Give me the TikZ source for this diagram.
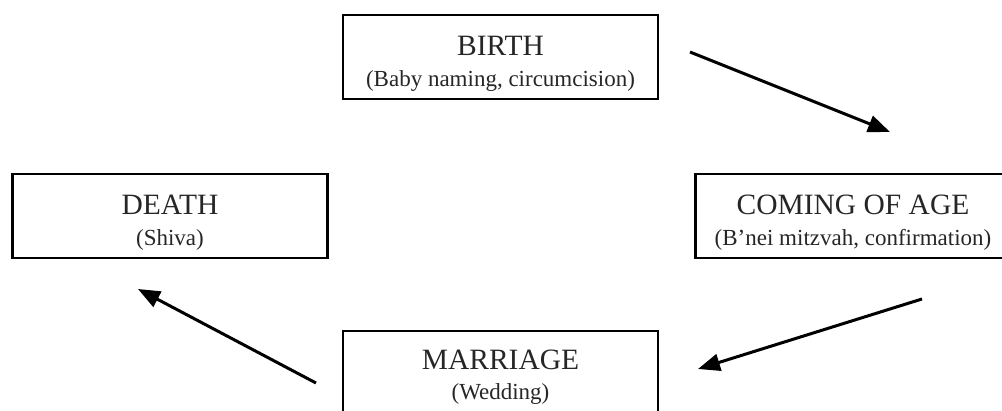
\documentclass[tikz,border=0pt]{standalone}
\usepackage{fontspec}
\setmainfont{Liberation Serif}
\usetikzlibrary{arrows.meta,calc}
\tikzset{
  stagebox/.style={draw=black, line width=2.2pt, minimum width=315pt, minimum height=84pt, inner sep=0pt},
  titletext/.style={anchor=base, inner sep=0pt, font=\fontsize{29.5}{31}\selectfont, text=black!85},
  subtext/.style={anchor=base, inner sep=0pt, font=\fontsize{23}{25}\selectfont, text=black!85},
  cyclearrow/.style={line width=3pt, -{Triangle[length=22pt, width=17pt]}},
}
\begin{document}
\begin{tikzpicture}[x=1pt,y=1pt]
\useasboundingbox (0,0) rectangle (1002,-411);
\clip (0,0) rectangle (1002,-411);
% boxes
\node[stagebox] (birth) at (500.5,-57) {};
\node[stagebox] (death) at (170,-216) {};
\node[stagebox] (coming) at (853,-216) {};
\node[stagebox] (marriage) at (500.5,-373) {};
% texts
\node[titletext] (birthT) at ($(birth.north)+(0,-42)$) {BIRTH};
\node[subtext] (birthS) at ($(birth.north)+(0,-73)$) {(Baby naming, circumcision)};
\node[titletext] (deathT) at ($(death.north)+(0,-42)$) {DEATH};
\node[subtext] (deathS) at ($(death.north)+(0,-73)$) {(Shiva)};
\node[titletext] (comingT) at ($(coming.north)+(0,-42)$) {COMING OF AGE};
\node[subtext] (comingS) at ($(coming.north)+(0,-73)$) {(B’nei mitzvah, confirmation)};
\node[titletext] (marriageT) at ($(marriage.north)+(0,-40)$) {MARRIAGE};
\node[subtext] (marriageS) at ($(marriage.north)+(0,-70)$) {(Wedding)};
% arrow end points
\coordinate (a1s) at (690,-52);
\coordinate (a1e) at (890,-132);
\coordinate (a2s) at (922,-299);
\coordinate (a2e) at (698,-369);
\coordinate (a3s) at (316,-383);
\coordinate (a3e) at (138,-289);
\draw[cyclearrow] (a1s) -- (a1e);
\draw[cyclearrow] (a2s) -- (a2e);
\draw[cyclearrow] (a3s) -- (a3e);
\end{tikzpicture}
\end{document}
